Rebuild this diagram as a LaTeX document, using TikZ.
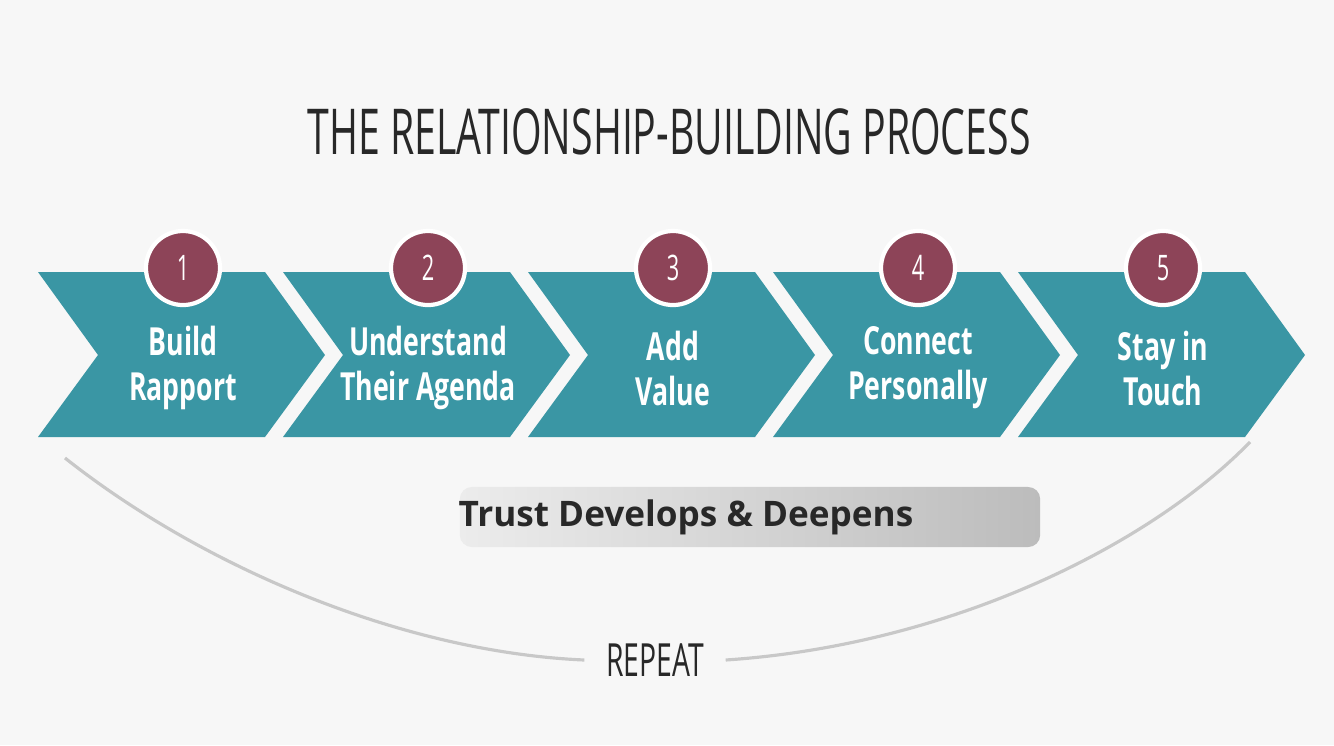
\documentclass[tikz,border=0pt]{standalone}
\usepackage{fontspec}
\usepackage{tikz}
\setmainfont{Open Sans}
\newfontfamily\headfont[FakeStretch=0.62]{Open Sans}
\newfontfamily\stepfont[FakeStretch=0.69]{Open Sans}
\definecolor{paper}{RGB}{247,247,247}
\definecolor{chevteal}{RGB}{58,150,164}
\definecolor{badgered}{RGB}{141,68,88}
\definecolor{inkgray}{RGB}{40,40,40}
\definecolor{looplinegray}{RGB}{200,200,200}
\definecolor{trustlight}{RGB}{236,236,236}
\definecolor{trustdark}{RGB}{188,188,188}

\begin{document}
\begin{tikzpicture}[x=0.01cm,y=-0.01cm,
chev/.style={fill=chevteal},
badge/.style={circle,fill=badgered,draw=white,line width=1.2pt,minimum size=0.74cm,inner sep=0pt,text=white,font=\headfont\fontsize{10}{10}\selectfont},
steplbl/.style={text=white,align=center,font=\stepfont\bfseries\fontsize{11}{12.8}\selectfont},
trustbar/.style={rectangle,rounded corners=0.12cm,left color=trustlight,right color=trustdark,minimum width=5.8cm,minimum height=0.6cm},
loopline/.style={draw=looplinegray,line width=0.9pt}]
\useasboundingbox[fill=paper] (0,0) rectangle (1334,745);
\node[font=\headfont\fontsize{18}{20}\selectfont,text=inkgray] (title) at (669,132) {THE RELATIONSHIP-BUILDING PROCESS};
% five chevrons, each with its number badge and label
\foreach \n/\lineA/\lineB in %
{1/Build/Rapport,2/Understand/Their Agenda,3/Add/Value,4/Connect/Personally,5/Stay in/Touch} {
   \fill[chev] (38+245*\n-245,272) -- ++(227,0) -- ++(60,83) -- ++(-60,82)
      -- ++(-227,0) -- ++(60,-82) -- cycle;
   \node[steplbl] (l\n) at (183+245*\n-245,368) {\lineA\\\lineB};
   \node[badge] (b\n) at (183+245*\n-245,268) {\n};
}
\node[trustbar] (trust) at (750,517) {};
\node[anchor=west,text=inkgray,font=\bfseries\fontsize{10}{12}\selectfont,inner sep=0pt] (trusttxt) at (458,517) {Trust Develops \& Deepens};
\coordinate (arcL) at (65,458);
\coordinate (arcR) at (1250,442);
\node[font=\headfont\fontsize{13}{14}\selectfont,text=inkgray,inner sep=6pt] (rep) at (655,660) {REPEAT};
\draw[loopline] (arcL) .. controls (200,565) and (400,652) .. (rep.west);
\draw[loopline] (rep.east) .. controls (950,645) and (1150,545) .. (arcR);
\end{tikzpicture}
\end{document}
